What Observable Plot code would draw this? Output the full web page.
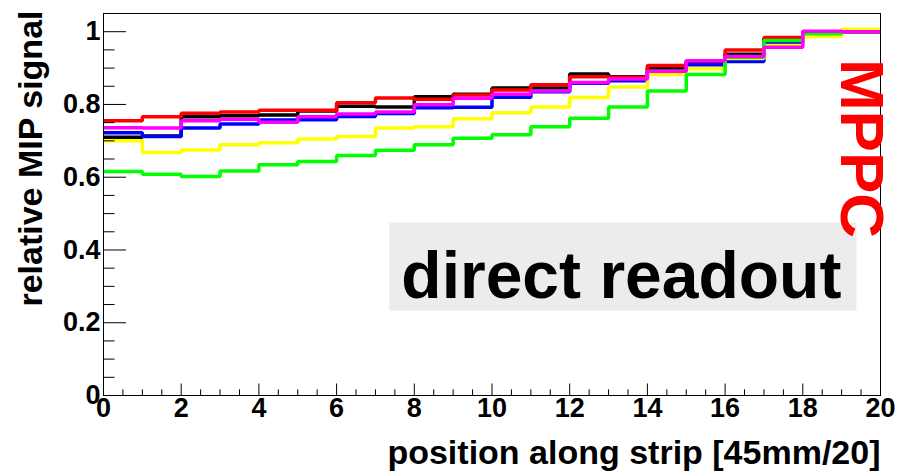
<!DOCTYPE html>
<html><head><meta charset="utf-8">
<script src="https://cdn.jsdelivr.net/npm/d3@7"></script>
<script src="https://cdn.jsdelivr.net/npm/@observablehq/plot@0.6"></script>
<style>html,body{margin:0;padding:0;background:#fff}svg{display:block}</style>
</head><body><div id="chart"></div>
<script>
// bin edges along the strip (20 bins)
const binEdges = [0,1,2,3,4,5,6,7,8,9,10,11,12,13,14,15,16,17,18,19,20];

// relative MIP signal per bin, one array per curve
const blackVals   = [0.710,0.713,0.766,0.769,0.771,0.782,0.795,0.793,0.821,0.828,0.845,0.845,0.884,0.876,0.900,0.918,0.938,0.980,1.000,1.000];
const redVals     = [0.755,0.766,0.776,0.779,0.784,0.784,0.805,0.818,0.814,0.826,0.840,0.854,0.876,0.875,0.907,0.920,0.950,0.984,1.000,1.000];
const blueVals    = [0.722,0.712,0.735,0.746,0.757,0.758,0.767,0.775,0.791,0.792,0.820,0.835,0.858,0.865,0.888,0.909,0.918,0.970,0.998,1.000];
const yellowVals  = [0.700,0.668,0.675,0.689,0.695,0.705,0.712,0.735,0.739,0.761,0.777,0.793,0.819,0.848,0.882,0.898,0.926,0.962,0.987,1.007];
const greenVals   = [0.616,0.608,0.602,0.617,0.634,0.643,0.660,0.674,0.689,0.707,0.717,0.739,0.762,0.793,0.837,0.882,0.930,0.976,0.994,1.000];
const magentaVals = [0.736,0.735,0.755,0.759,0.751,0.766,0.774,0.779,0.799,0.817,0.828,0.837,0.860,0.870,0.891,0.920,0.932,0.957,1.001,1.000];

const seriesNames  = ["black","red","blue","yellow","green","magenta"];
const seriesColors = ["#000000","#ff0000","#0000ff","#ffff00","#00ff00","#ff00ff"];
const seriesValues = [blackVals, redVals, blueVals, yellowVals, greenVals, magentaVals];

// axes
const xMajorTicks = [0,2,4,6,8,10,12,14,16,18,20];
const xMinorTicks = [0.5,1,1.5,2.5,3,3.5,4.5,5,5.5,6.5,7,7.5,8.5,9,9.5,10.5,11,11.5,12.5,13,13.5,14.5,15,15.5,16.5,17,17.5,18.5,19,19.5];
const yMajorTicks = [0,0.2,0.4,0.6,0.8,1];
const yMajorLabels = ["0","0.2","0.4","0.6","0.8","1"];
const yMinorTicks = [0.05,0.1,0.15,0.25,0.3,0.35,0.45,0.5,0.55,0.65,0.7,0.75,0.85,0.9,0.95,1.05];

const xTitle = "position along strip [45mm/20]";
const yTitle = "relative MIP signal";
const annotation = [{text: "direct readout", x: 13.33, y: 0.327}];
const sideLabel = "MPPC";

const W = 900, H = 473;
const mL = 103, mR = 20, mT = 13, mB = 78;
const frameW = W - mL - mR, frameH = H - mT - mB;
const font = "Liberation Sans, Arial, Helvetica, sans-serif";

function stepRows(vals) {
  const rows = vals.map((v, i) => ({x: binEdges[i], y: v}));
  rows.push({x: binEdges[vals.length], y: vals[vals.length - 1]});
  return rows;
}

const lineMarks = seriesValues.map((vals, k) =>
  Plot.line(stepRows(vals), {x: "x", y: "y", curve: "step-after", stroke: seriesColors[k],
    strokeWidth: 3.5, strokeLinejoin: "miter", strokeLinecap: "butt"}));

const chart = Plot.plot({
  width: W, height: H,
  marginLeft: mL, marginRight: mR, marginTop: mT, marginBottom: mB,
  style: {fontFamily: font, background: "#fff", overflow: "visible"},
  x: {domain: [0, 20]},
  y: {domain: [0, 1.05]},
  marks: [
    ...lineMarks,
    // inward ticks, ROOT style
    Plot.tickY(yMajorTicks, {y: d => d, insetRight: frameW - 23, stroke: "#000", strokeWidth: 1}),
    Plot.tickY(yMinorTicks, {y: d => d, insetRight: frameW - 11.5, stroke: "#000", strokeWidth: 1}),
    Plot.tickX(xMajorTicks, {x: d => d, insetTop: frameH - 11.5, stroke: "#000", strokeWidth: 1}),
    Plot.tickX(xMinorTicks, {x: d => d, insetTop: frameH - 5.7, stroke: "#000", strokeWidth: 1}),
    Plot.frame({stroke: "#000", strokeWidth: 1}),
    Plot.axisY(yMajorTicks, {tickSize: 0, tickPadding: 3, fontSize: 27, fontWeight: "bold",
      tickFormat: d => yMajorLabels[yMajorTicks.indexOf(d)], label: null, fill: "#000"}),
    Plot.axisX(xMajorTicks, {tickSize: 0, tickPadding: 2, fontSize: 27, fontWeight: "bold",
      tickFormat: d => String(d), label: null, fill: "#000"}),
    Plot.text([yTitle], {frameAnchor: "top-left", text: d => d, rotate: -90, textAnchor: "end",
      lineAnchor: "middle", dx: -72, dy: -3, fontSize: 34, fontWeight: "bold", fill: "#000"}),
    Plot.text([xTitle], {frameAnchor: "bottom-right", text: d => d, textAnchor: "end",
      lineAnchor: "middle", dy: 58, fontSize: 34, fontWeight: "bold", fill: "#000"}),
    Plot.text(annotation, {x: "x", y: "y", text: "text", fontSize: 66, fontWeight: "bold", fill: "#000",
      lineAnchor: "middle", textAnchor: "middle"}),
    Plot.text([sideLabel], {frameAnchor: "top-right", text: d => d, rotate: 90,
      textAnchor: "middle", lineAnchor: "middle",
      dx: -20, dy: 135, fontSize: 62, fontWeight: "bold", fill: "#ff0000"})
  ]
});

document.getElementById("chart").appendChild(chart);

// gray backdrop behind the annotation text
const annoText = Array.from(chart.querySelectorAll("text")).find(t => t.textContent === "direct readout");
if (annoText) {
  const bb = annoText.getBBox();
  const g = annoText.parentNode;
  const rect = document.createElementNS("http://www.w3.org/2000/svg", "rect");
  rect.setAttribute("x", bb.x - 12);
  rect.setAttribute("y", bb.y - 15);
  rect.setAttribute("width", bb.width + 27);
  rect.setAttribute("height", bb.height + 14);
  rect.setAttribute("fill", "#ececec");
  const ctm = annoText.getAttribute("transform");
  if (ctm) rect.setAttribute("transform", ctm);
  g.insertBefore(rect, annoText);
}
</script></body></html>
